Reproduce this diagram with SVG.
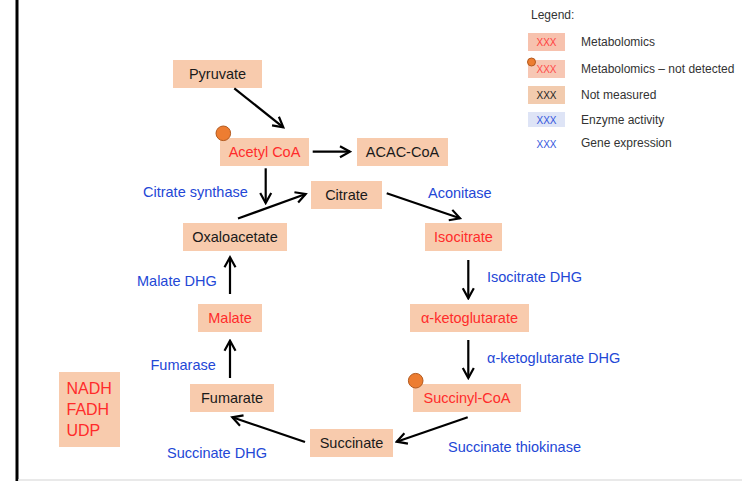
<svg xmlns="http://www.w3.org/2000/svg" width="742" height="481" viewBox="0 0 742 481">
  <style>
    .box { fill: #F8CBAD; }
    .t { font-family: "Liberation Sans", Arial, sans-serif; font-size: 14.5px; }
    .blk { fill: #1a1a1a; }
    .red { fill: #ff2b2b; }
    .blu { fill: #2347d6; }
    .lg { font-family: "Liberation Sans", Arial, sans-serif; font-size: 12px; fill: #333; }
    .lx { font-family: "Liberation Sans", Arial, sans-serif; font-size: 10px; text-anchor: middle; }
    .dot { fill: #ED7D31; stroke: #B35A1F; stroke-width: 1; }
    .arr { stroke: #000; stroke-width: 2.2; fill: none; marker-end: url(#head); }
  </style>
  <defs>
    <marker id="head" markerUnits="userSpaceOnUse" markerWidth="14" markerHeight="14" viewBox="0 0 14 14" refX="12" refY="7" orient="auto">
      <path d="M2,1.5 L12,7 L2,12.5" fill="none" stroke="#000" stroke-width="2.2" stroke-linejoin="miter"/>
    </marker>
  </defs>

  <rect width="742" height="481" fill="#fff"/>
  <!-- page frame -->
  <line x1="17" y1="0" x2="17" y2="481" stroke="#000" stroke-width="3"/>
  <line x1="18" y1="480" x2="742" y2="480" stroke="#e2e2e2" stroke-width="1.5"/>

  <!-- legend -->
  <g id="legend">
    <text class="lg" x="531" y="19" font-size="11">Legend:</text>
    <rect x="528" y="33" width="37" height="18" fill="#F7C2AE"/>
    <text class="lx" x="546.5" y="45.5" fill="#ff4040">XXX</text>
    <text class="lg" x="581" y="46">Metabolomics</text>
    <rect x="528" y="60" width="37" height="18" fill="#F7C7B4"/>
    <circle cx="531.5" cy="62" r="4" class="dot"/>
    <text class="lx" x="546.5" y="72.5" fill="#ff4a4a">XXX</text>
    <text class="lg" x="581" y="73">Metabolomics – not detected</text>
    <rect x="528" y="86" width="37" height="18" fill="#F2CBAE"/>
    <text class="lx" x="546.5" y="98.5" fill="#222">XXX</text>
    <text class="lg" x="581" y="99">Not measured</text>
    <rect x="528" y="112" width="37" height="15" fill="#DEE4F6"/>
    <text class="lx" x="546.5" y="123.5" fill="#3355dd">XXX</text>
    <text class="lg" x="581" y="124">Enzyme activity</text>
    <text class="lx" x="546.5" y="147.5" fill="#3355dd">XXX</text>
    <text class="lg" x="581" y="147">Gene expression</text>
  </g>

  <!-- metabolite nodes -->
  <g id="pyruvate">
    <rect class="box" x="173" y="60" width="89" height="28"/>
    <text class="t blk" x="217.5" y="79" text-anchor="middle">Pyruvate</text>
  </g>
  <g id="acetyl-coa">
    <rect class="box" x="220" y="138" width="89" height="28"/>
    <text class="t red" x="264.5" y="157" text-anchor="middle">Acetyl CoA</text>
    <circle class="dot" cx="223.3" cy="133.3" r="7.3"/>
  </g>
  <g id="acac-coa">
    <rect class="box" x="357" y="138" width="91" height="28"/>
    <text class="t blk" x="402.5" y="157" text-anchor="middle">ACAC-CoA</text>
  </g>
  <g id="citrate">
    <rect class="box" x="311" y="181" width="71" height="28"/>
    <text class="t blk" x="346.5" y="200" text-anchor="middle">Citrate</text>
  </g>
  <g id="isocitrate">
    <rect class="box" x="425" y="223" width="77" height="28"/>
    <text class="t red" x="463.5" y="242" text-anchor="middle">Isocitrate</text>
  </g>
  <g id="alpha-ketoglutarate">
    <rect class="box" x="410" y="304" width="119" height="28"/>
    <text class="t red" x="469.5" y="323" text-anchor="middle">α-ketoglutarate</text>
  </g>
  <g id="succinyl-coa">
    <rect class="box" x="413" y="384" width="108" height="28"/>
    <text class="t red" x="467" y="403" text-anchor="middle">Succinyl-CoA</text>
    <circle class="dot" cx="415.7" cy="380.7" r="7.3"/>
  </g>
  <g id="succinate">
    <rect class="box" x="310" y="429" width="83" height="28"/>
    <text class="t blk" x="351.5" y="448" text-anchor="middle">Succinate</text>
  </g>
  <g id="fumarate">
    <rect class="box" x="190" y="384" width="84" height="28"/>
    <text class="t blk" x="232" y="403" text-anchor="middle">Fumarate</text>
  </g>
  <g id="malate">
    <rect class="box" x="198" y="304" width="64" height="28"/>
    <text class="t red" x="230" y="323" text-anchor="middle">Malate</text>
  </g>
  <g id="oxaloacetate">
    <rect class="box" x="183" y="223" width="104" height="28"/>
    <text class="t blk" x="235" y="242" text-anchor="middle">Oxaloacetate</text>
  </g>
  <g id="cofactors">
    <rect class="box" x="59" y="372" width="61" height="75"/>
    <text class="red" font-family="Liberation Sans, Arial, sans-serif" font-size="16" x="66.5" y="394">NADH</text>
    <text class="red" font-family="Liberation Sans, Arial, sans-serif" font-size="16" x="66.5" y="415">FADH</text>
    <text class="red" font-family="Liberation Sans, Arial, sans-serif" font-size="16" x="66.5" y="436">UDP</text>
  </g>

  <!-- enzyme labels -->
  <g id="enzymes">
    <text class="t blu" x="143" y="197">Citrate synthase</text>
    <text class="t blu" x="428" y="198">Aconitase</text>
    <text class="t blu" x="487" y="282">Isocitrate DHG</text>
    <text class="t blu" x="487" y="363">α-ketoglutarate DHG</text>
    <text class="t blu" x="448" y="452">Succinate thiokinase</text>
    <text class="t blu" x="167" y="458">Succinate DHG</text>
    <text class="t blu" x="150.5" y="370">Fumarase</text>
    <text class="t blu" x="137" y="286">Malate DHG</text>
  </g>

  <!-- reaction arrows -->
  <g id="connectors">
    <line class="arr" x1="234.3" y1="88.3" x2="283.3" y2="127.3"/>
    <line class="arr" x1="312.7" y1="151.7" x2="350" y2="151.7"/>
    <line class="arr" x1="265.7" y1="168.3" x2="265.7" y2="203"/>
    <line class="arr" x1="238" y1="218.5" x2="305.7" y2="194"/>
    <line class="arr" x1="386.7" y1="193.3" x2="460" y2="218.3"/>
    <line class="arr" x1="468.3" y1="260" x2="468.3" y2="298.3"/>
    <line class="arr" x1="468.3" y1="340" x2="468.3" y2="378"/>
    <line class="arr" x1="467.7" y1="417.3" x2="396.7" y2="441.7"/>
    <line class="arr" x1="305" y1="442" x2="232.3" y2="417.3"/>
    <line class="arr" x1="230" y1="378" x2="230" y2="340.7"/>
    <line class="arr" x1="230" y1="294" x2="230" y2="257.3"/>
  </g>
</svg>
